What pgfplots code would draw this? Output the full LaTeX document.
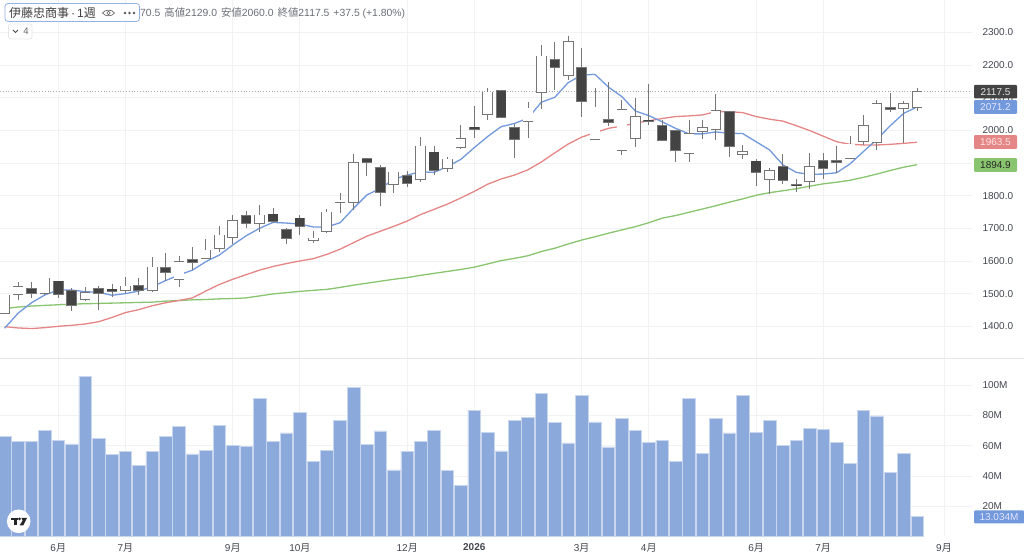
\documentclass[border=0pt]{standalone}
\usepackage{fontspec}
\usepackage{pgfplots}
\usepackage{pgfplotstable}
\pgfplotsset{compat=1.18}
\setmainfont{Liberation Sans}
\newfontfamily\cjk{Noto Sans CJK JP}
\newcommand\mon{{\cjk 月}}

\definecolor{gridc}{HTML}{F1F2F4}
\definecolor{sepc}{HTML}{E6E7EA}
\definecolor{tickc}{HTML}{43464F}
\definecolor{headc}{HTML}{6B6E77}
\definecolor{candledark}{HTML}{434343}
\definecolor{candleedge}{HTML}{767676}
\definecolor{mablue}{HTML}{7199DB}
\definecolor{mared}{HTML}{E58686}
\definecolor{magreen}{HTML}{89C46E}
\definecolor{volc}{HTML}{8BA9DB}
\definecolor{voledge}{HTML}{C9D7EE}

% i high top bottom low down
\pgfplotstableread{
i hi top bot lo dn
0 1497 1495 1442 1440 0
1 1537 1521 1500 1481 0
2 1537 1515 1502 1488 1
3 1548 1547 1503 1496 0
4 1540 1538 1499 1488 1
5 1516 1509 1465 1448 1
6 1519 1503 1484 1477 0
7 1524 1514 1501 1450 1
8 1528 1513 1507 1491 1
9 1550 1522 1510 1503 0
10 1547 1524 1511 1496 1
11 1611 1580 1510 1505 0
12 1623 1579 1567 1540 1
13 1614 1597 1544 1521 0
14 1642 1603 1598 1572 1
15 1667 1633 1610 1605 0
16 1706 1678 1640 1626 0
17 1742 1722 1672 1652 0
18 1752 1739 1717 1702 1
19 1770 1740 1715 1688 0
20 1761 1743 1723 1717 1
21 1702 1695 1671 1651 1
22 1741 1731 1708 1680 1
23 1693 1669 1665 1654 0
24 1758 1749 1691 1685 0
25 1809 1786 1780 1746 0
26 1927 1901 1780 1756 0
27 1913 1913 1902 1860 1
28 1894 1885 1811 1768 1
29 1871 1871 1837 1807 0
30 1876 1861 1839 1826 1
31 1980 1951 1850 1843 0
32 1951 1933 1879 1862 1
33 1919 1911 1884 1871 0
34 2015 1974 1950 1942 0
35 2074 2009 2005 1977 1
36 2130 2116 2051 2032 0
37 2121 2121 2041 2039 1
38 2019 2008 1972 1916 1
39 2086 2067 2028 1976 0
40 2262 2226 2118 2066 0
41 2269 2215 2193 2123 1
42 2288 2270 2168 2154 0
43 2251 2192 2091 2041 1
44 2129 2070 1972 1969 0
45 2148 2031 2026 2013 1
46 2093 2062 1939 1924 0
47 2100 2042 1976 1949 0
48 2142 2030 2027 2015 1
49 2032 2014 1970 1968 1
50 1998 1998 1941 1904 1
51 2032 1989 1931 1903 0
52 2031 2008 1999 1972 0
53 2111 2059 2003 1970 0
54 2057 2057 1951 1919 1
55 1956 1935 1927 1912 0
56 1913 1905 1873 1828 1
57 1885 1876 1851 1805 0
58 1928 1889 1848 1836 1
59 1850 1833 1831 1811 1
60 1929 1888 1846 1821 0
61 1930 1907 1884 1852 1
62 1952 1906 1904 1868 1
63 1981 1957 1916 1916 0
64 2048 2014 1968 1954 0
65 2093 2080 1964 1941 0
66 2114 2069 2065 2055 1
67 2091 2080 2067 1960 0
68 2129 2117.5 2070.5 2060 0
}\candles

% i blue red green volume(M)
\pgfplotstableread{
i b r g v
0 1394 1399 1454 66
1 1440 1395 1459 62.9
2 1472 1393 1462 62.9
3 1496 1396 1464 69.9
4 1511 1400 1466 63.5
5 1511 1403 1468 61.1
6 1506 1407 1469 105.7
7 1504 1414 1470 65
8 1495 1427 1471 54.3
9 1500 1442 1472 56.3
10 1508 1451 1473 47
11 1521 1463 1474 56
12 1540 1472 1477 66.2
13 1557 1479 1479 72.7
14 1572 1487 1481 54.5
15 1598 1508 1482 56.7
16 1618 1528 1484 73.2
17 1649 1544 1485 60.4
18 1677 1558 1487 59.3
19 1700 1572 1493 91
20 1718 1583 1499 62.6
21 1716 1592 1503 68.4
22 1713 1600 1507 82
23 1704 1607 1510 49.5
24 1704 1620 1513 56.9
25 1717 1636 1519 76.7
26 1761 1656 1526 98.5
27 1802 1676 1532 60.9
28 1822 1691 1538 69.7
29 1850 1706 1544 44
30 1863 1722 1549 56.3
31 1873 1742 1556 62.6
32 1871 1758 1562 70.3
33 1889 1774 1568 43.5
34 1911 1793 1574 33.6
35 1947 1813 1581 83.3
36 1981 1835 1591 68.8
37 2011 1851 1601 56.5
38 2021 1863 1608 76.5
39 2037 1879 1616 78.9
40 2086 1903 1629 94.3
41 2101 1931 1639 75.4
42 2146 1958 1652 61.8
43 2169 1979 1664 93.4
44 2171 1993 1674 75.6
45 2132 2006 1685 59.1
46 2103 2013 1695 78.2
47 2059 2022 1705 69.9
48 2045 2029 1717 62
49 2026 2036 1731 63.7
50 2006 2042 1739 49.7
51 1989 2044 1749 91.4
52 1989 2047 1759 54.9
53 1995 2057 1769 77.8
54 1991 2057 1780 68.4
55 1990 2054 1790 93.4
56 1965 2042 1801 68.8
57 1940 2034 1809 76.5
58 1894 2028 1815 60.2
59 1871 2014 1821 63.3
60 1865 1999 1829 71.6
61 1866 1982 1836 70.5
62 1870 1965 1841 62.2
63 1897 1957 1847 48.4
64 1935 1955 1856 83.3
65 1972 1955 1866 79.6
66 2014 1957 1877 42.2
67 2052 1960 1887 54.9
68 2071.2 1963.5 1894.9 13.034
}\series

\pgfplotsset{
  pane/.style={
    scale only axis, width=972pt,
    xmin=-0.343, xmax=72.09,
    axis line style={draw=none},
    major tick length=0pt,
    xtick={4,9,17,22,30,35,43,48,56,61,70},
    xmajorgrids=true, ymajorgrids=true,
    grid style={color=gridc, line width=0.7pt},
    yticklabel pos=right,
    yticklabel style={anchor=west, xshift=7pt, text=tickc, font=\fontsize{10}{12}\selectfont},
    xticklabel style={text=tickc, yshift=-3.5pt, font=\fontsize{10}{12}\selectfont},
    /pgf/number format/assume math mode=true,
  },
  % candle layers are thick butt-capped error bars
  layer/.style n args={2}{
    forget plot, draw=none, mark=none,
    error bars/.cd, y dir=both, y explicit, error mark=none,
    error bar style={solid, color=#1, line width=#2},
    /pgfplots/.cd,
  },
}

\begin{document}
\begin{tikzpicture}[x=1pt,y=1pt]
\path[use as bounding box] (0,0) rectangle (1024,553);

\begin{axis}[pane, at={(0pt,195pt)}, height=358pt,
    ymin=1303, ymax=2398.8,
    xticklabels={},
    ytick={1400,1500,...,2300},
    yticklabel style={/pgf/number format/.cd, fixed, fixed zerofill, precision=1, 1000 sep={}},
  ]
  \addplot[magreen, line width=1.3pt] table[x=i, y=g] {\series};
  \addplot[mared, line width=1.3pt] table[x=i, y=r] {\series};
  \addplot[mablue, line width=1.3pt] table[x=i, y=b] {\series};
  \addplot[gray!70, dotted, line width=0.8pt] coordinates {(-0.343,2117.5)(72.09,2117.5)};

  % wicks
  \addplot[layer={candleedge}{0.9pt}] table[x=i, y=bot,
    y error plus expr=\thisrow{hi}-\thisrow{bot}, y error minus expr=\thisrow{bot}-\thisrow{lo}] {\candles};
  % body edge
  \addplot[layer={candleedge}{10.6pt}] table[x=i, y=bot,
    y error plus expr=\thisrow{top}-\thisrow{bot}+2, y error minus expr=2] {\candles};
  % body fill: a zero length bar draws nothing
  \addplot[layer={white}{9.2pt}] table[x=i, y=bot,
    y error plus expr=(1-\thisrow{dn})*(\thisrow{top}-\thisrow{bot}), y error minus expr=0] {\candles};
  \addplot[layer={candledark}{9.2pt}] table[x=i, y=bot,
    y error plus expr=\thisrow{dn}*(\thisrow{top}-\thisrow{bot}), y error minus expr=0] {\candles};
\end{axis}

\begin{axis}[pane, at={(0pt,16.5pt)}, height=177.5pt,
    ymin=0, ymax=117.2,
    xticklabels={6\mon,7\mon,9\mon,10\mon,12\mon,\textbf{2026},3\mon,4\mon,6\mon,7\mon,9\mon},
    ytick={20,40,60,80,100},
    yticklabels={20M,40M,60M,80M,100M},
  ]
  \addplot[ybar, bar width=12.6pt, bar shift=0pt, fill=volc, draw=voledge, line width=0.6pt]
    table[x=i, y=v] {\series};
\end{axis}

% pane separator
\draw[sepc, line width=0.8pt] (0,195) -- (1024,195);

% price badges
\newcommand\badge[4]{\fill[#1, rounded corners=1pt] (974,#3-6.8) rectangle (1017,#3+6.8);
  \node[text=#2, font=\fontsize{10}{12}\selectfont, anchor=center] at (995.5,#3) {#4};}
\badge{candledark}{white!90!black}{461.3}{2117.5}
\badge{mablue}{white!90!blue}{446}{2071.2}
\badge{mared}{white!90!red}{411}{1963.5}
\badge{magreen}{black!85}{388}{1894.9}
\fill[mablue, rounded corners=1pt] (974,29.5) rectangle (1024,42.5);
\node[text=white!90!blue, font=\fontsize{10}{12}\selectfont] at (999,36) {13.034M};

% header
\node[anchor=west, inner sep=0, text=headc, font=\fontsize{10.4}{12}\selectfont] at (140,540)
  {70.5\hspace{4pt}{\cjk 高値}2129.0\hspace{4pt}{\cjk 安値}2060.0\hspace{4pt}{\cjk 終値}2117.5\hspace{4pt}+37.5 (+1.80\%)};
\draw[mablue!75, fill=white, line width=0.8pt, rounded corners=3pt] (5,531.5) rectangle (139.5,549.5);
\node[anchor=west, inner sep=0, text=black!75, font=\fontsize{12}{13}\selectfont] at (9,540)
  {{\cjk 伊藤忠商事}\,·\,1{\cjk 週}};
\draw[black!65, line width=0.6pt] (102.5,540) .. controls (105,543.8) and (112,543.8) .. (114.5,540)
  .. controls (112,536.2) and (105,536.2) .. cycle;
\draw[black!65, line width=0.6pt] (108.5,540) circle (1.8);
\foreach \dx in {125,129.5,134} \draw[black!65, line width=0.6pt] (\dx,540) circle (0.9);
\draw[sepc, fill=white, line width=0.7pt, rounded corners=2pt] (8.5,514) rectangle (32,529);
\draw[black!70, line width=0.8pt] (13,523) -- (15.5,520.5) -- (18,523);
\node[text=black!60, inner sep=0, font=\fontsize{9.5}{11}\selectfont] at (26,521.5) {4};

% logo
\fill[white] (18.7,31.7) circle (11.8);
\fill[black!85] (11.2,35.2) rectangle (18.4,32.6);
\fill[black!85] (14.2,33) rectangle (17.2,27.6);
\fill[black!85] (19.5,34) circle (1.5);
\fill[black!85] (21.4,35.2) -- (27,35.2) -- (23.2,27.6) -- (19.6,27.6) -- (22.6,32.4) -- cycle;
\end{tikzpicture}
\end{document}
